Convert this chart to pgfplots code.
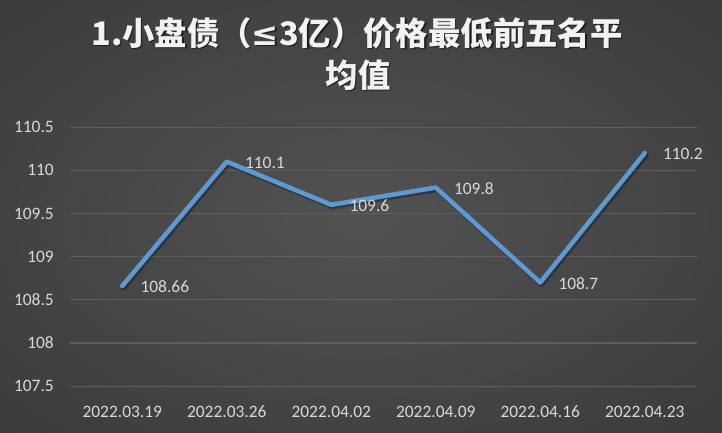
\documentclass[border=0pt]{standalone}
\usepackage{pgfplots}
\pgfplotsset{compat=1.18}
\usepackage{fontspec}
\setmainfont{Carlito}
\newfontfamily\cjk{Noto Sans CJK SC}
\newfontfamily\sym{DejaVu Sans}
\definecolor{bgin}{HTML}{525252}
\definecolor{bgout}{HTML}{242424}
\definecolor{gridc}{HTML}{5E5E5E}
\definecolor{txt}{HTML}{D9D9D9}
\definecolor{linec}{HTML}{5B9BD5}
\pgfdeclareradialshading{bgshade}{\pgfpoint{0bp}{0bp}}{color(0bp)=(bgin); color(71bp)=(bgout)}
\newcommand{\titleone}{1.小盘债（{\sym\bfseries ≤}3亿）价格最低前五名平}
\begin{document}
\begin{tikzpicture}[x=1bp,y=1bp]
\shade[shading=bgshade] (0,0) rectangle (722,433);
% title
\begin{scope}[font=\cjk\bfseries\fontsize{32.5}{40}\selectfont, inner sep=0pt]
\node[text=black, opacity=0.55] at (358.3,398.5) {\titleone};
\node[text=black, opacity=0.55] at (359.3,356.5) {均值};
\node[text={rgb,255:red,242;green,242;blue,242}] at (357,400) {\titleone};
\node[text={rgb,255:red,242;green,242;blue,242}] at (358,358) {均值};
\end{scope}
\begin{axis}[
  at={(67,54.3)}, anchor=south west,
  scale only axis, width=627bp, height=259bp,
  xmin=-0.5, xmax=5.5, ymin=107.5, ymax=110.5,
  xtick={0,1,2,3,4,5},
  xticklabels={2022.03.19,2022.03.26,2022.04.02,2022.04.09,2022.04.16,2022.04.23},
  ytick={107.5,108,108.5,109,109.5,110,110.5},
  yticklabels={107.5,108,108.5,109,109.5,110,110.5},
  axis line style={draw=none},
  major tick length=0pt,
  ymajorgrids,
  grid style={color=gridc, line width=1.2bp},
  tick label style={font=\fontsize{17.5}{20}\selectfont, text=txt, inner sep=0pt},
  xticklabel style={anchor=center, yshift=-25.5bp},
  yticklabel style={anchor=east, xshift=-16bp},
  clip=false,
]
\addplot[color=black, opacity=0.3, line width=5bp, line cap=round, line join=round, mark=none, shift={(1.5bp,-2bp)}]
  table[x=x, y=y] {
x y
0 108.66
1 110.1
2 109.6
3 109.8
4 108.7
5 110.2
};
\addplot[color=linec, line width=4.5bp, line cap=round, line join=round, mark=none,
  nodes near coords, point meta=explicit symbolic,
  nodes near coords style={anchor=west, xshift=16bp, yshift=-1bp, inner sep=0pt, font=\fontsize{17.5}{20}\selectfont, text=txt}]
  table[x=x, y=y, meta=label] {
x y label
0 108.66 108.66
1 110.1 110.1
2 109.6 109.6
3 109.8 109.8
4 108.7 108.7
5 110.2 110.2
};
\end{axis}
\pgfresetboundingbox
\path[use as bounding box] (0,0) rectangle (722,433);
\end{tikzpicture}
\end{document}
